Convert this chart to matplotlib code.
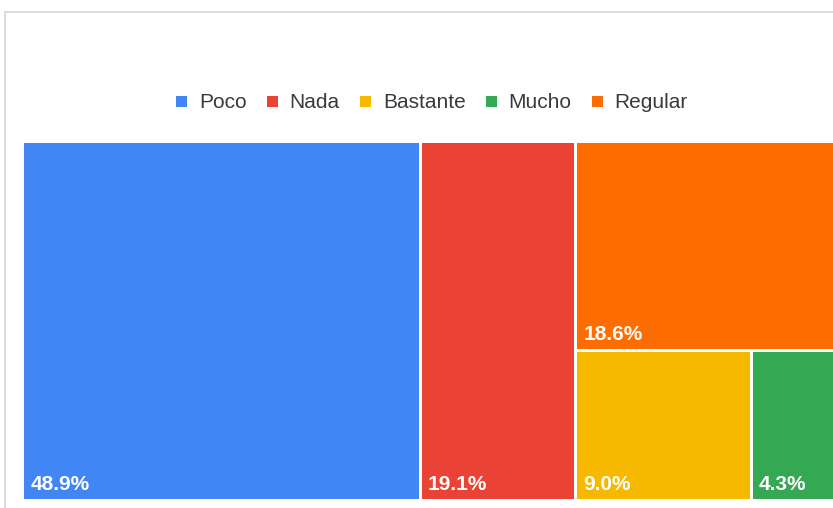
import matplotlib
matplotlib.use("Agg")
import matplotlib.pyplot as plt
from matplotlib.patches import Rectangle

categories = ["Poco", "Nada", "Bastante", "Mucho", "Regular"]
values = [48.9, 19.1, 9.0, 4.3, 18.6]
labels = ["48.9%", "19.1%", "9.0%", "4.3%", "18.6%"]
colors = ["#4285F4", "#EA4335", "#F6B900", "#34A853", "#FF6D01"]

W, H = 833, 508
fig = plt.figure(figsize=(W / 100, H / 100), dpi=100)
ax = fig.add_axes([0, 0, 1, 1])
ax.set_xlim(0, W)
ax.set_ylim(H, 0)
ax.axis("off")
plt.rcParams['font.family'] = ['Liberation Sans', 'DejaVu Sans']

# frame of screenshot
ax.plot([5, W], [12, 12], color="#d6d6d6", lw=1.2)
ax.plot([5, 5], [12, H], color="#d6d6d6", lw=1.2)

# treemap region
X0, X1, Y0, Y1 = 23, 835, 141, 500
tot = sum(values)
v = dict(zip(categories, values))
rects = {}
x = X0
for name in ["Poco", "Nada"]:
    w = (X1 - X0) * v[name] / tot
    rects[name] = (x, Y0, w, Y1 - Y0)
    x += w
rest = v["Regular"] + v["Bastante"] + v["Mucho"]
cw = X1 - x
hr = (Y1 - Y0) * v["Regular"] / rest
rects["Regular"] = (x, Y0, cw, hr)
bm = v["Bastante"] + v["Mucho"]
wb = cw * v["Bastante"] / bm
rects["Bastante"] = (x, Y0 + hr, wb, Y1 - Y0 - hr)
rects["Mucho"] = (x + wb, Y0 + hr, cw - wb, Y1 - Y0 - hr)

g = 1.5
for name, lab, col in zip(categories, labels, colors):
    rx, ry, rw, rh = rects[name]
    ax.add_patch(Rectangle((rx + g, ry + g), rw - 2 * g, rh - 2 * g,
                           facecolor=col, edgecolor="none"))
    ax.text(rx + g + 6, ry + rh - g - 9, lab, color="white", fontsize=15,
            fontweight="bold", ha="left", va="baseline")

# legend (manual)
fig.canvas.draw()
r = fig.canvas.get_renderer()
fs = 15
sq = 11
gap_t = 12
gap_i = 20
tw = []
for c in categories:
    t = ax.text(0, 0, c, fontsize=fs)
    tw.append(t.get_window_extent(r).width)
    t.remove()
total = sum(sq + gap_t + w for w in tw) + gap_i * (len(tw) - 1)
lx = 432 - total / 2
ly = 101
for c, col, w in zip(categories, colors, tw):
    ax.add_patch(Rectangle((lx, ly - sq / 2), sq, sq, facecolor=col, edgecolor="none"))
    ax.text(lx + sq + gap_t, ly + 1, c, fontsize=fs, color="#3a3a3a",
            ha="left", va="center")
    lx += sq + gap_t + w + gap_i

fig.savefig("out.png", dpi=100, facecolor="white")
